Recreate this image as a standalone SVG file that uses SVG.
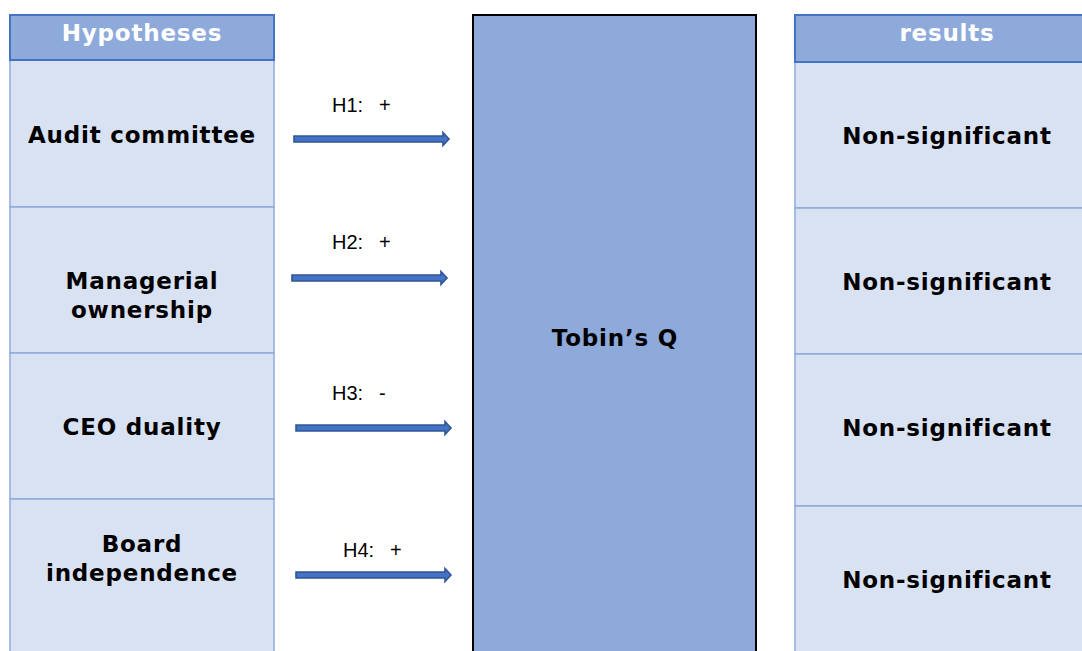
<svg xmlns="http://www.w3.org/2000/svg" width="1082" height="651" viewBox="0 0 1082 651">
<defs>
<style>
.cell{fill:#D9E2F3;stroke:#8EAADB;stroke-width:1.5}
.head{fill:#8EAADB;stroke:#4472C4;stroke-width:2}
.ht{font-family:"DejaVu Sans",Verdana,sans-serif;font-weight:bold;font-size:23px;letter-spacing:0.8px;fill:#FFFFFF;text-anchor:middle}
.t{font-family:"DejaVu Sans",Verdana,sans-serif;font-weight:bold;font-size:23px;letter-spacing:0.8px;fill:#000000;text-anchor:middle}
.lbl{font-family:"Liberation Sans",Arial,sans-serif;font-size:20px;fill:#000000}
.arr{fill:#4472C4;stroke:#2F5597;stroke-width:1.6}
</style>
<path id="arrow" d="M0,-3 L149,-3 L149,-6.5 L155,0 L149,6.5 L149,3 L0,3 Z"/>
</defs>
<rect width="1082" height="651" fill="#FFFFFF"/>
<g id="hypotheses">
<rect class="cell" x="10" y="60" width="264" height="147"/>
<rect class="cell" x="10" y="207" width="264" height="146"/>
<rect class="cell" x="10" y="353" width="264" height="146"/>
<rect class="cell" x="10" y="499" width="264" height="160"/>
<rect class="head" x="10" y="15" width="264" height="45"/>
<text class="ht" x="142" y="41">Hypotheses</text>
</g>
<g id="node-audit"><text class="t" x="142" y="143">Audit committee</text></g>
<g id="node-managerial"><text class="t" x="142" y="289">Managerial</text><text class="t" x="142" y="318">ownership</text></g>
<g id="node-ceo"><text class="t" x="142" y="435">CEO duality</text></g>
<g id="node-board"><text class="t" x="142" y="552">Board</text><text class="t" x="142" y="581">independence</text></g>
<g id="node-tobin">
<rect x="473" y="15" width="283" height="650" fill="#8EAADB" stroke="#000000" stroke-width="2"/>
<text class="t" x="615" y="346">Tobin’s Q</text>
</g>
<g id="results">
<rect class="cell" x="795" y="62" width="295" height="146"/>
<rect class="cell" x="795" y="208" width="295" height="146"/>
<rect class="cell" x="795" y="354" width="295" height="152"/>
<rect class="cell" x="795" y="506" width="295" height="160"/>
<rect class="head" x="795" y="15" width="295" height="47"/>
<text class="ht" x="947" y="41">results</text>
<text class="t" x="947" y="144">Non-significant</text>
<text class="t" x="947" y="290">Non-significant</text>
<text class="t" x="947" y="436">Non-significant</text>
<text class="t" x="947" y="588">Non-significant</text>
</g>
<g id="connectors">
<use href="#arrow" class="arr" transform="translate(294,139)"/>
<use href="#arrow" class="arr" transform="translate(292,278)"/>
<use href="#arrow" class="arr" transform="translate(296,428)"/>
<use href="#arrow" class="arr" transform="translate(296,575)"/>
<text class="lbl" y="112"><tspan x="332">H1:</tspan><tspan x="379">+</tspan></text>
<text class="lbl" y="249"><tspan x="332">H2:</tspan><tspan x="379">+</tspan></text>
<text class="lbl" y="400"><tspan x="332">H3:</tspan><tspan x="379">-</tspan></text>
<text class="lbl" y="557"><tspan x="343">H4:</tspan><tspan x="390">+</tspan></text>
</g>
</svg>
